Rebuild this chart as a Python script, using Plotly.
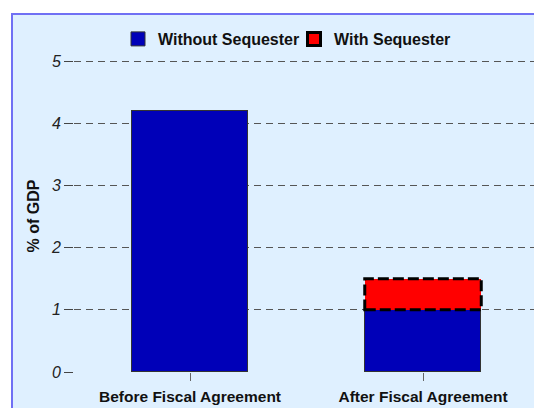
import plotly.graph_objects as go

categories = ["Before Fiscal Agreement", "After Fiscal Agreement"]
without_sequester = [4.2, 1.0]
with_sequester = [None, 0.5]
y_ticks = [0, 1, 2, 3, 4, 5]

BAR_W = 0.5
FONT = "Liberation Sans, Arial, sans-serif"
W, H = 534, 408
ML, MR, MT, MB = 74, 0, 20, 36
PX_PER_UNIT = 62.2
CAT_SPACING = 233
pw = W - ML - MR
ph = H - MT - MB

fig = go.Figure()
fig.add_trace(go.Bar(
    x=list(range(len(categories))), y=without_sequester, width=BAR_W,
    name="Without Sequester", showlegend=False,
    marker=dict(color="#0000B8", line=dict(color="#333333", width=1)),
))
fig.add_trace(go.Bar(
    x=list(range(len(categories))), y=with_sequester, width=BAR_W,
    name="With Sequester", showlegend=False,
    marker=dict(color="#FF0000", line=dict(width=0)),
))
# legend entries
fig.add_trace(go.Scatter(
    x=[None], y=[None], mode="markers", name="Without Sequester",
    marker=dict(symbol="square", color="#0000B8", size=14,
                line=dict(color="#333333", width=1)),
))
fig.add_trace(go.Scatter(
    x=[None], y=[None], mode="markers", name="With Sequester",
    marker=dict(symbol="square", color="#FF0000", size=13,
                line=dict(color="black", width=3)),
))

# dashed outline on stacked sequester segments, derived from data
for i, v in enumerate(with_sequester):
    if v is None:
        continue
    fig.add_shape(type="rect", xref="x", yref="y",
                  x0=i - BAR_W / 2, x1=i + BAR_W / 2,
                  y0=without_sequester[i], y1=without_sequester[i] + v,
                  line=dict(color="black", width=3, dash="11px,4px"),
                  layer="above")

# background panel
fig.add_shape(type="rect", xref="paper", yref="paper",
              x0=(12 - ML) / pw, x1=(W + 20 - ML) / pw,
              y0=-(MB + 20) / ph, y1=(H - MB - 14) / ph,
              fillcolor="#DFF0FF", line=dict(color="#7070F4", width=2),
              layer="below")

# y-axis title centred on the tick span
fig.add_annotation(
    text="% of GDP", textangle=-90, showarrow=False,
    xref="paper", x=(33 - ML) / pw, xanchor="center",
    yref="y", y=(y_ticks[0] + y_ticks[-1]) / 2, yanchor="middle",
    font=dict(size=16, family=FONT, weight="bold", color="#111111"),
)

fig.update_layout(
    width=W, height=H,
    margin=dict(l=ML, r=MR, t=MT, b=MB, pad=0, autoexpand=False),
    paper_bgcolor="white", plot_bgcolor="rgba(0,0,0,0)",
    barmode="stack", bargap=0,
    font=dict(family=FONT, color="#111111"),
    showlegend=True,
    legend=dict(orientation="h", xref="paper", yref="paper",
                x=(118 - ML) / pw, xanchor="left",
                y=(H - MB - 39) / ph, yanchor="middle",
                font=dict(size=16, family=FONT, weight="bold", color="#111111"),
                bgcolor="rgba(0,0,0,0)", traceorder="normal",
                entrywidth=131, entrywidthmode="pixels"),
    xaxis=dict(
        range=[-(190 - ML) / CAT_SPACING, (W - MR - 190) / CAT_SPACING],
        tickmode="array", tickvals=list(range(len(categories))), ticktext=categories,
        tickfont=dict(size=15.5, family=FONT, weight="bold", color="#111111"),
        ticks="outside", ticklen=8, tickcolor="#666666", tickwidth=1,
        ticklabelstandoff=2,
        showgrid=False, showline=False, zeroline=False,
    ),
    yaxis=dict(
        range=[0, ph / PX_PER_UNIT], tickvals=y_ticks,
        tickfont=dict(size=16, family=FONT, style="italic", color="#222222"),
        ticks="outside", ticklen=9, tickcolor="#444444", tickwidth=1,
        showgrid=True, gridcolor="#555555", gridwidth=1, griddash="7px,5px",
        zeroline=False, showline=False,
    ),
)

fig.write_html(
    "out.html",
    config={"displayModeBar": False},
    post_script="document.body.style.margin='0';document.body.style.overflow='hidden';",
)
